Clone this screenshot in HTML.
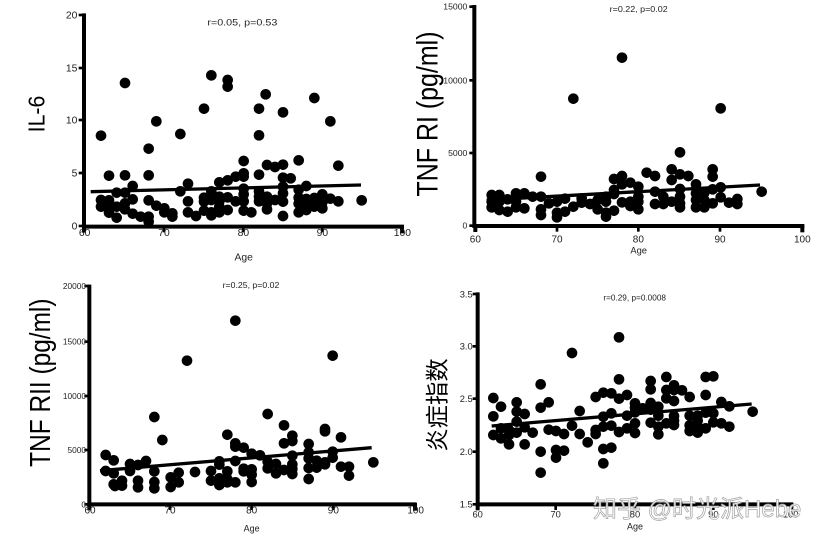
<!DOCTYPE html>
<html><head><meta charset="utf-8"><style>
html,body{margin:0;padding:0;background:#fff;}
svg{display:block;}
text{font-family:"Liberation Sans","Noto Sans CJK SC",sans-serif;fill:#222;}
</style></head><body>
<svg width="825" height="541" viewBox="0 0 825 541" xmlns="http://www.w3.org/2000/svg">
<rect width="825" height="541" fill="#fff"/>

<!-- Panel 1 -->
<g transform="scale(0.33333)">
<g stroke="#000" stroke-linecap="butt">
<line x1="252" y1="40" x2="252" y2="686" stroke-width="12"/>
<line x1="246" y1="680" x2="1212" y2="680" stroke-width="12"/>
<g stroke-width="8">
<line x1="236" y1="45" x2="252" y2="45"/><line x1="236" y1="204" x2="252" y2="204"/><line x1="236" y1="360" x2="252" y2="360"/><line x1="236" y1="519" x2="252" y2="519"/><line x1="236" y1="678" x2="252" y2="678"/>
<line x1="492" y1="680" x2="492" y2="697"/><line x1="730" y1="680" x2="730" y2="697"/><line x1="967" y1="680" x2="967" y2="697"/>
</g>
<line x1="1206" y1="676" x2="1206" y2="700" stroke-width="12"/>
<line x1="252" y1="680" x2="252" y2="698" stroke-width="12"/>
</g>
<g font-size="31" text-anchor="end">
<text x="232" y="56">20</text><text x="232" y="215">15</text><text x="232" y="371">10</text><text x="232" y="530">5</text><text x="232" y="689">0</text>
</g>
<g font-size="31" text-anchor="middle">
<text x="254" y="708">60</text><text x="492" y="708">70</text><text x="730" y="708">80</text><text x="967" y="708">90</text><text x="1207" y="708">100</text>
<text x="731" y="781">Age</text>
<text x="727" y="77" font-size="28" textLength="210" lengthAdjust="spacingAndGlyphs">r=0.05, p=0.53</text>
</g>
<text transform="translate(134,342) rotate(-90)" font-size="68" text-anchor="middle" textLength="110" lengthAdjust="spacingAndGlyphs" style="fill:#000">IL-6</text>
<line x1="272" y1="575" x2="1083" y2="555" stroke="#000" stroke-width="10"/>
<g fill="#000">
<circle cx="303" cy="407" r="16"/><circle cx="375" cy="249" r="16"/><circle cx="446" cy="446" r="16"/><circle cx="469" cy="364" r="16"/><circle cx="541" cy="402" r="16"/><circle cx="612" cy="326" r="16"/><circle cx="634" cy="226" r="16"/><circle cx="683" cy="240" r="16"/><circle cx="683" cy="260" r="16"/><circle cx="777" cy="326" r="16"/><circle cx="777" cy="406" r="16"/><circle cx="797" cy="283" r="16"/><circle cx="849" cy="337" r="16"/><circle cx="943" cy="294" r="16"/><circle cx="991" cy="364" r="16"/><circle cx="1015" cy="497" r="16"/><circle cx="1085" cy="601" r="16"/>
<circle cx="327" cy="527" r="16"/><circle cx="375" cy="526" r="16"/><circle cx="446" cy="526" r="16"/><circle cx="398" cy="558" r="16"/><circle cx="564" cy="551" r="16"/><circle cx="541" cy="574" r="16"/><circle cx="658" cy="547" r="16"/><circle cx="683" cy="541" r="16"/><circle cx="707" cy="530" r="16"/><circle cx="731" cy="520" r="16"/><circle cx="731" cy="530" r="16"/><circle cx="731" cy="483" r="16"/><circle cx="777" cy="524" r="16"/><circle cx="801" cy="495" r="16"/><circle cx="825" cy="501" r="16"/><circle cx="849" cy="494" r="16"/><circle cx="849" cy="533" r="16"/><circle cx="849" cy="560" r="16"/><circle cx="849" cy="580" r="16"/><circle cx="872" cy="535" r="16"/><circle cx="896" cy="481" r="16"/><circle cx="896" cy="569" r="16"/><circle cx="919" cy="558" r="16"/><circle cx="350" cy="578" r="16"/><circle cx="375" cy="578" r="16"/><circle cx="634" cy="574" r="16"/>
<circle cx="303" cy="600" r="16"/><circle cx="303" cy="620" r="16"/>
<circle cx="327" cy="601" r="16"/><circle cx="327" cy="628" r="16"/><circle cx="327" cy="638" r="16"/>
<circle cx="350" cy="620" r="16"/><circle cx="350" cy="653" r="16"/>
<circle cx="375" cy="610" r="16"/><circle cx="375" cy="628" r="16"/>
<circle cx="398" cy="598" r="16"/><circle cx="398" cy="641" r="16"/>
<circle cx="422" cy="650" r="16"/>
<circle cx="446" cy="601" r="16"/><circle cx="446" cy="650" r="16"/><circle cx="446" cy="665" r="16"/>
<circle cx="469" cy="617" r="16"/>
<circle cx="493" cy="625" r="16"/><circle cx="493" cy="637" r="16"/>
<circle cx="517" cy="640" r="16"/><circle cx="517" cy="650" r="16"/>
<circle cx="564" cy="604" r="16"/><circle cx="564" cy="637" r="16"/>
<circle cx="588" cy="648" r="16"/>
<circle cx="612" cy="593" r="16"/><circle cx="612" cy="605" r="16"/><circle cx="612" cy="632" r="16"/>
<circle cx="634" cy="600" r="16"/><circle cx="634" cy="637" r="16"/><circle cx="634" cy="646" r="16"/>
<circle cx="658" cy="590" r="16"/><circle cx="658" cy="604" r="16"/><circle cx="658" cy="620" r="16"/><circle cx="658" cy="637" r="16"/>
<circle cx="683" cy="592" r="16"/><circle cx="683" cy="630" r="16"/>
<circle cx="707" cy="604" r="16"/>
<circle cx="731" cy="566" r="16"/><circle cx="731" cy="583" r="16"/><circle cx="731" cy="604" r="16"/><circle cx="731" cy="632" r="16"/>
<circle cx="754" cy="637" r="16"/>
<circle cx="777" cy="574" r="16"/><circle cx="777" cy="590" r="16"/><circle cx="777" cy="604" r="16"/>
<circle cx="801" cy="590" r="16"/><circle cx="801" cy="610" r="16"/><circle cx="801" cy="628" r="16"/>
<circle cx="825" cy="600" r="16"/>
<circle cx="849" cy="605" r="16"/><circle cx="849" cy="648" r="16"/>
<circle cx="896" cy="593" r="16"/><circle cx="896" cy="611" r="16"/><circle cx="896" cy="637" r="16"/>
<circle cx="919" cy="597" r="16"/><circle cx="919" cy="620" r="16"/><circle cx="919" cy="630" r="16"/>
<circle cx="943" cy="594" r="16"/><circle cx="943" cy="608" r="16"/><circle cx="943" cy="620" r="16"/>
<circle cx="967" cy="583" r="16"/><circle cx="967" cy="607" r="16"/><circle cx="967" cy="625" r="16"/>
<circle cx="991" cy="596" r="16"/><circle cx="1015" cy="604" r="16"/>
</g>
</g>

<!-- Panel 2 -->
<g transform="translate(410,0) scale(0.33333)">
<g stroke="#000">
<line x1="193" y1="15" x2="193" y2="684" stroke-width="12"/>
<line x1="188" y1="678" x2="1183" y2="678" stroke-width="12"/>
<g stroke-width="8">
<line x1="178" y1="20" x2="193" y2="20"/><line x1="178" y1="241" x2="193" y2="241"/><line x1="178" y1="459" x2="193" y2="459"/><line x1="178" y1="677" x2="193" y2="677"/>
<line x1="441" y1="678" x2="441" y2="695"/><line x1="685" y1="678" x2="685" y2="695"/><line x1="930" y1="678" x2="930" y2="695"/>
</g>
<line x1="1177" y1="674" x2="1177" y2="697" stroke-width="12"/>
<line x1="196" y1="678" x2="196" y2="696" stroke-width="12"/>
</g>
<g font-size="26" text-anchor="end">
<text x="172" y="29">15000</text><text x="172" y="250">10000</text><text x="172" y="468">5000</text><text x="172" y="686">0</text>
</g>
<g font-size="30" text-anchor="middle">
<text x="196" y="727">60</text><text x="441" y="727">70</text><text x="685" y="727">80</text><text x="930" y="727">90</text><text x="1177" y="727">100</text>
<text x="686" y="760" font-size="28">Age</text>
<text x="686" y="36" font-size="26" textLength="174" lengthAdjust="spacingAndGlyphs">r=0.22, p=0.02</text>
</g>
<text transform="translate(82,342) rotate(-90)" font-size="89" text-anchor="middle" textLength="495" lengthAdjust="spacingAndGlyphs" style="fill:#000">TNF RI (pg/ml)</text>
<line x1="230" y1="600" x2="1050" y2="555" stroke="#000" stroke-width="10"/>
<g fill="#000">
<circle cx="636" cy="173" r="16"/><circle cx="490" cy="296" r="16"/><circle cx="932" cy="325" r="16"/><circle cx="810" cy="457" r="16"/><circle cx="393" cy="530" r="16"/>
<circle cx="245" cy="585" r="16"/><circle cx="245" cy="605" r="16"/><circle cx="245" cy="622" r="16"/>
<circle cx="268" cy="585" r="16"/><circle cx="268" cy="605" r="16"/><circle cx="268" cy="630" r="16"/>
<circle cx="293" cy="598" r="16"/><circle cx="293" cy="635" r="16"/>
<circle cx="318" cy="580" r="16"/><circle cx="318" cy="605" r="16"/><circle cx="318" cy="622" r="16"/>
<circle cx="343" cy="580" r="16"/><circle cx="343" cy="625" r="16"/>
<circle cx="368" cy="590" r="16"/>
<circle cx="393" cy="590" r="16"/><circle cx="393" cy="628" r="16"/><circle cx="393" cy="645" r="16"/>
<circle cx="417" cy="610" r="16"/>
<circle cx="441" cy="605" r="16"/><circle cx="441" cy="638" r="16"/><circle cx="441" cy="652" r="16"/>
<circle cx="465" cy="596" r="16"/><circle cx="465" cy="635" r="16"/>
<circle cx="490" cy="620" r="16"/>
<circle cx="515" cy="595" r="16"/><circle cx="515" cy="608" r="16"/>
<circle cx="540" cy="612" r="16"/>
<circle cx="563" cy="600" r="16"/><circle cx="563" cy="628" r="16"/>
<circle cx="588" cy="590" r="16"/><circle cx="588" cy="605" r="16"/><circle cx="588" cy="638" r="16"/><circle cx="588" cy="650" r="16"/>
<circle cx="612" cy="537" r="16"/><circle cx="612" cy="570" r="16"/><circle cx="612" cy="582" r="16"/><circle cx="612" cy="632" r="16"/>
<circle cx="636" cy="528" r="16"/><circle cx="636" cy="553" r="16"/><circle cx="636" cy="607" r="16"/>
<circle cx="661" cy="548" r="16"/><circle cx="661" cy="605" r="16"/><circle cx="661" cy="618" r="16"/>
<circle cx="685" cy="560" r="16"/><circle cx="685" cy="590" r="16"/><circle cx="685" cy="605" r="16"/><circle cx="685" cy="628" r="16"/>
<circle cx="710" cy="518" r="16"/>
<circle cx="735" cy="528" r="16"/><circle cx="735" cy="575" r="16"/><circle cx="735" cy="612" r="16"/>
<circle cx="760" cy="590" r="16"/><circle cx="760" cy="612" r="16"/>
<circle cx="785" cy="508" r="16"/><circle cx="785" cy="540" r="16"/><circle cx="785" cy="605" r="16"/>
<circle cx="810" cy="523" r="16"/><circle cx="810" cy="567" r="16"/><circle cx="810" cy="590" r="16"/><circle cx="810" cy="610" r="16"/><circle cx="810" cy="622" r="16"/>
<circle cx="835" cy="528" r="16"/>
<circle cx="858" cy="553" r="16"/><circle cx="858" cy="580" r="16"/><circle cx="858" cy="600" r="16"/><circle cx="858" cy="622" r="16"/>
<circle cx="883" cy="578" r="16"/><circle cx="883" cy="600" r="16"/><circle cx="883" cy="622" r="16"/>
<circle cx="908" cy="508" r="16"/><circle cx="908" cy="530" r="16"/><circle cx="908" cy="568" r="16"/><circle cx="908" cy="610" r="16"/>
<circle cx="932" cy="562" r="16"/><circle cx="932" cy="592" r="16"/>
<circle cx="957" cy="608" r="16"/>
<circle cx="982" cy="597" r="16"/><circle cx="982" cy="612" r="16"/>
<circle cx="1055" cy="575" r="16"/>
</g>
</g>

<!-- Panel 3 -->
<g transform="translate(0,270) scale(0.33333)">
<g stroke="#000">
<line x1="268" y1="44" x2="268" y2="709" stroke-width="12"/>
<line x1="263" y1="703" x2="1250" y2="703" stroke-width="12"/>
<g stroke-width="8">
<line x1="253" y1="48" x2="268" y2="48"/><line x1="253" y1="215" x2="268" y2="215"/><line x1="253" y1="378" x2="268" y2="378"/><line x1="253" y1="540" x2="268" y2="540"/><line x1="253" y1="703" x2="268" y2="703"/>
<line x1="510" y1="703" x2="510" y2="720"/><line x1="755" y1="703" x2="755" y2="720"/><line x1="1000" y1="703" x2="1000" y2="720"/>
</g>
<line x1="1245" y1="699" x2="1245" y2="722" stroke-width="12"/>
<line x1="268" y1="703" x2="268" y2="721" stroke-width="12"/>
</g>
<g font-size="25" text-anchor="end">
<text x="258" y="57">20000</text><text x="258" y="224">15000</text><text x="258" y="387">10000</text><text x="258" y="549">5000</text><text x="258" y="712">0</text>
</g>
<g font-size="30" text-anchor="middle">
<text x="270" y="731">60</text><text x="510" y="731">70</text><text x="755" y="731">80</text><text x="1000" y="731">90</text><text x="1247" y="731">100</text>
<text x="755" y="784" font-size="27">Age</text>
<text x="753" y="54" font-size="26" textLength="170" lengthAdjust="spacingAndGlyphs">r=0.25, p=0.02</text>
</g>
<text transform="translate(150,338) rotate(-90)" font-size="87" text-anchor="middle" textLength="505" lengthAdjust="spacingAndGlyphs" style="fill:#000">TNF RII (pg/ml)</text>
<line x1="300" y1="602" x2="1115" y2="533" stroke="#000" stroke-width="10"/>
<g fill="#000">
<circle cx="706" cy="152" r="16"/><circle cx="561" cy="272" r="16"/><circle cx="998" cy="257" r="16"/><circle cx="463" cy="441" r="16"/><circle cx="803" cy="432" r="16"/><circle cx="487" cy="510" r="16"/><circle cx="852" cy="466" r="16"/>
<circle cx="317" cy="555" r="16"/><circle cx="317" cy="603" r="16"/>
<circle cx="341" cy="571" r="16"/><circle cx="341" cy="610" r="16"/><circle cx="341" cy="643" r="16"/><circle cx="345" cy="648" r="16"/>
<circle cx="366" cy="632" r="16"/><circle cx="366" cy="647" r="16"/>
<circle cx="390" cy="582" r="16"/><circle cx="390" cy="603" r="16"/>
<circle cx="414" cy="585" r="16"/><circle cx="414" cy="632" r="16"/><circle cx="414" cy="652" r="16"/>
<circle cx="438" cy="573" r="16"/>
<circle cx="463" cy="604" r="16"/><circle cx="463" cy="636" r="16"/><circle cx="463" cy="655" r="16"/>
<circle cx="512" cy="622" r="16"/><circle cx="512" cy="651" r="16"/>
<circle cx="536" cy="608" r="16"/><circle cx="536" cy="637" r="16"/>
<circle cx="585" cy="606" r="16"/>
<circle cx="633" cy="603" r="16"/><circle cx="633" cy="632" r="16"/>
<circle cx="658" cy="574" r="16"/><circle cx="658" cy="584" r="16"/><circle cx="658" cy="625" r="16"/><circle cx="658" cy="645" r="16"/>
<circle cx="682" cy="494" r="16"/><circle cx="682" cy="604" r="16"/><circle cx="682" cy="627" r="16"/><circle cx="682" cy="637" r="16"/>
<circle cx="706" cy="520" r="16"/><circle cx="706" cy="530" r="16"/><circle cx="706" cy="573" r="16"/><circle cx="706" cy="637" r="16"/>
<circle cx="731" cy="533" r="16"/><circle cx="731" cy="596" r="16"/><circle cx="731" cy="604" r="16"/>
<circle cx="755" cy="551" r="16"/><circle cx="755" cy="598" r="16"/><circle cx="755" cy="614" r="16"/><circle cx="755" cy="636" r="16"/>
<circle cx="780" cy="556" r="16"/>
<circle cx="803" cy="575" r="16"/><circle cx="803" cy="595" r="16"/>
<circle cx="828" cy="582" r="16"/><circle cx="828" cy="610" r="16"/>
<circle cx="852" cy="520" r="16"/><circle cx="852" cy="600" r="16"/>
<circle cx="877" cy="497" r="16"/><circle cx="877" cy="513" r="16"/><circle cx="877" cy="557" r="16"/><circle cx="877" cy="583" r="16"/><circle cx="877" cy="597" r="16"/><circle cx="877" cy="612" r="16"/>
<circle cx="926" cy="522" r="16"/><circle cx="926" cy="547" r="16"/><circle cx="926" cy="565" r="16"/><circle cx="926" cy="594" r="16"/><circle cx="926" cy="627" r="16"/>
<circle cx="950" cy="572" r="16"/><circle cx="950" cy="593" r="16"/>
<circle cx="975" cy="477" r="16"/><circle cx="975" cy="484" r="16"/><circle cx="975" cy="577" r="16"/><circle cx="975" cy="583" r="16"/>
<circle cx="998" cy="545" r="16"/><circle cx="998" cy="563" r="16"/>
<circle cx="1023" cy="502" r="16"/><circle cx="1023" cy="590" r="16"/>
<circle cx="1047" cy="590" r="16"/><circle cx="1047" cy="617" r="16"/>
<circle cx="1120" cy="577" r="16"/>
</g>
</g>

<!-- Panel 4 -->
<g transform="translate(410,270) scale(0.33333)">
<g stroke="#000">
<line x1="203" y1="67" x2="203" y2="709" stroke-width="12"/>
<line x1="198" y1="703" x2="1150" y2="703" stroke-width="12"/>
<g stroke-width="8">
<line x1="188" y1="72" x2="203" y2="72"/><line x1="188" y1="229" x2="203" y2="229"/><line x1="188" y1="386" x2="203" y2="386"/><line x1="188" y1="545" x2="203" y2="545"/><line x1="188" y1="703" x2="203" y2="703"/>
<line x1="437" y1="703" x2="437" y2="720"/><line x1="675" y1="703" x2="675" y2="720"/><line x1="910" y1="703" x2="910" y2="720"/>
</g>
<line x1="1144" y1="699" x2="1144" y2="721" stroke-width="12"/>
<line x1="203" y1="703" x2="203" y2="721" stroke-width="12"/>
</g>
<g font-size="28" text-anchor="end">
<text x="188" y="82">3.5</text><text x="188" y="239">3.0</text><text x="188" y="396">2.5</text><text x="188" y="555">2.0</text><text x="188" y="713">1.5</text>
</g>
<g font-size="28" text-anchor="middle">
<text x="203" y="743">60</text><text x="437" y="743">70</text><text x="675" y="743">80</text><text x="910" y="743">90</text><text x="1142" y="743">100</text>
<text x="675" y="778" font-size="27">Age</text>
<text x="674" y="92" font-size="25" textLength="188" lengthAdjust="spacingAndGlyphs">r=0.29, p=0.0008</text>
</g>
<text transform="translate(107,405) rotate(-90)" font-size="70" text-anchor="middle" style="fill:#000">炎症指数</text>
<line x1="245" y1="468" x2="1025" y2="402" stroke="#000" stroke-width="10"/>
<g fill="#000">
<circle cx="250" cy="384" r="16"/><circle cx="250" cy="439" r="16"/><circle cx="250" cy="495" r="16"/>
<circle cx="273" cy="410" r="16"/><circle cx="273" cy="475" r="16"/><circle cx="273" cy="505" r="16"/>
<circle cx="297" cy="480" r="16"/><circle cx="297" cy="495" r="16"/><circle cx="297" cy="523" r="16"/>
<circle cx="320" cy="397" r="16"/><circle cx="320" cy="425" r="16"/><circle cx="320" cy="455" r="16"/><circle cx="320" cy="488" r="16"/>
<circle cx="344" cy="432" r="16"/><circle cx="344" cy="472" r="16"/><circle cx="344" cy="523" r="16"/>
<circle cx="368" cy="488" r="16"/>
<circle cx="392" cy="343" r="16"/><circle cx="392" cy="413" r="16"/><circle cx="392" cy="545" r="16"/><circle cx="392" cy="608" r="16"/>
<circle cx="416" cy="397" r="16"/><circle cx="416" cy="479" r="16"/>
<circle cx="438" cy="483" r="16"/><circle cx="438" cy="540" r="16"/><circle cx="438" cy="563" r="16"/>
<circle cx="462" cy="492" r="16"/><circle cx="462" cy="542" r="16"/>
<circle cx="486" cy="249" r="16"/><circle cx="486" cy="467" r="16"/>
<circle cx="509" cy="423" r="16"/><circle cx="509" cy="492" r="16"/>
<circle cx="533" cy="517" r="16"/>
<circle cx="557" cy="381" r="16"/><circle cx="557" cy="480" r="16"/><circle cx="557" cy="492" r="16"/>
<circle cx="580" cy="368" r="16"/><circle cx="580" cy="440" r="16"/><circle cx="580" cy="470" r="16"/><circle cx="580" cy="537" r="16"/><circle cx="580" cy="580" r="16"/>
<circle cx="604" cy="370" r="16"/><circle cx="604" cy="430" r="16"/><circle cx="604" cy="467" r="16"/><circle cx="604" cy="533" r="16"/>
<circle cx="627" cy="202" r="16"/><circle cx="627" cy="328" r="16"/><circle cx="627" cy="386" r="16"/><circle cx="627" cy="486" r="16"/>
<circle cx="651" cy="375" r="16"/><circle cx="651" cy="437" r="16"/><circle cx="651" cy="475" r="16"/>
<circle cx="675" cy="400" r="16"/><circle cx="675" cy="413" r="16"/><circle cx="675" cy="427" r="16"/><circle cx="675" cy="460" r="16"/><circle cx="675" cy="489" r="16"/>
<circle cx="698" cy="415" r="16"/>
<circle cx="722" cy="333" r="16"/><circle cx="722" cy="358" r="16"/><circle cx="722" cy="399" r="16"/><circle cx="722" cy="419" r="16"/><circle cx="722" cy="458" r="16"/>
<circle cx="745" cy="410" r="16"/><circle cx="745" cy="437" r="16"/><circle cx="745" cy="470" r="16"/><circle cx="745" cy="493" r="16"/>
<circle cx="769" cy="321" r="16"/><circle cx="769" cy="360" r="16"/><circle cx="769" cy="385" r="16"/><circle cx="769" cy="460" r="16"/>
<circle cx="792" cy="346" r="16"/><circle cx="792" cy="360" r="16"/><circle cx="792" cy="393" r="16"/><circle cx="792" cy="438" r="16"/><circle cx="792" cy="452" r="16"/><circle cx="792" cy="465" r="16"/>
<circle cx="816" cy="361" r="16"/>
<circle cx="839" cy="381" r="16"/><circle cx="839" cy="437" r="16"/><circle cx="839" cy="466" r="16"/><circle cx="839" cy="483" r="16"/>
<circle cx="863" cy="437" r="16"/><circle cx="863" cy="452" r="16"/><circle cx="863" cy="470" r="16"/><circle cx="863" cy="488" r="16"/>
<circle cx="887" cy="321" r="16"/><circle cx="887" cy="375" r="16"/><circle cx="887" cy="428" r="16"/><circle cx="887" cy="475" r="16"/>
<circle cx="910" cy="319" r="16"/><circle cx="910" cy="430" r="16"/><circle cx="910" cy="457" r="16"/>
<circle cx="934" cy="396" r="16"/><circle cx="934" cy="460" r="16"/>
<circle cx="958" cy="409" r="16"/><circle cx="958" cy="470" r="16"/>
<circle cx="1028" cy="425" r="16"/>
</g>
</g>

<!-- Watermark -->
<text x="593" y="517" font-size="24" style="fill:#fff;stroke:#9a9a9a;stroke-width:0.7;font-family:'Liberation Sans','Noto Sans CJK SC',sans-serif" opacity="0.92">知乎 @时光派Hebe</text>
</svg>
</body></html>
